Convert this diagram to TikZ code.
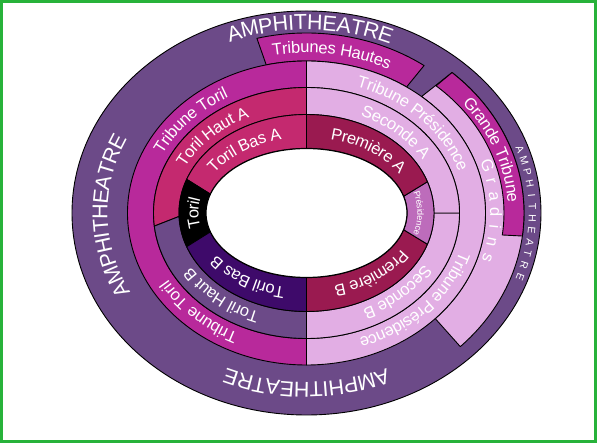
\documentclass[tikz,border=0pt]{standalone}
\usepackage{fontspec}
\setmainfont{Liberation Sans}
\usepackage{tikz}
\usetikzlibrary{decorations.text}

\definecolor{amphi}{HTML}{6C4A88}
\definecolor{tribmag}{HTML}{B8299B}
\definecolor{torilpink}{HTML}{C4296F}
\definecolor{premiere}{HTML}{9A1A50}
\definecolor{presid}{HTML}{BD6CBB}
\definecolor{pale}{HTML}{E2AEE4}
\definecolor{basb}{HTML}{3E0A6A}
\definecolor{framegreen}{HTML}{27B23A}

\newcommand{\lblfont}{\fontsize{16.5pt}{16.5pt}\selectfont}
\newcommand{\bigfont}{\fontsize{21.5pt}{21.5pt}\selectfont}
\newcommand{\minifont}{\fontsize{9pt}{9pt}\selectfont}

\begin{document}
\begin{tikzpicture}[line width=0.9pt,
  band/.style={draw=black, line join=round},
  arclabel/.style={decorate, decoration={text along path, text align=center, text color=white, raise=-5.9pt, text={|\lblfont|#1}}},
  bigarclabel/.style={decorate, decoration={text along path, text align=center, text color=white, raise=-7.7pt, text={|\bigfont|#1}}},
  miniarclabel/.style={decorate, decoration={text along path, text align=center, text color=white, raise=-3.2pt, text={|\minifont|#1}}},
  letter/.style={text=white, inner sep=0pt, anchor=base}]
\useasboundingbox (-306.5pt,-230pt) rectangle (290.5pt,213pt);

%Frame
\draw[line width=3pt, framegreen] (-305pt,-228.5pt) rectangle (289pt,211.5pt);

%Shape: Ellipse (amphitheatre)
\draw[band, fill=amphi] (0,0) ellipse [x radius=234.5pt, y radius=202pt];

%Shape: Arc band (tribunes hautes)
\draw[band, fill=tribmag] (55:205pt and 180pt) arc[start angle=55, end angle=104, x radius=205pt, y radius=180pt] -- (103:179pt and 152pt) arc[start angle=103, end angle=56, x radius=179pt, y radius=152pt] -- cycle;
%Shape: Arc band (gradins)
\draw[band, fill=pale] (50:179pt and 152pt) arc[start angle=50, end angle=-44, x radius=179pt, y radius=152pt] -- (-45:217.5pt and 189pt) arc[start angle=-45, end angle=48, x radius=217.5pt, y radius=189pt] -- cycle;
%Shape: Arc band (grande tribune)
\draw[band, fill=tribmag] (48:217.5pt and 189pt) arc[start angle=48, end angle=-7, x radius=217.5pt, y radius=189pt] -- (-7.5:197.5pt and 168.5pt) arc[start angle=-7.5, end angle=49, x radius=197.5pt, y radius=168.5pt] -- cycle;

%Shape: Arc band (tribune toril)
\draw[band, fill=tribmag] (90:179pt and 152pt) arc[start angle=90, end angle=270, x radius=179pt, y radius=152pt] -- (270:153pt and 125.5pt) arc[start angle=270, end angle=90, x radius=153pt, y radius=125.5pt] -- cycle;
%Shape: Arc band (tribune presidence)
\draw[band, fill=pale] (-90:179pt and 152pt) arc[start angle=-90, end angle=90, x radius=179pt, y radius=152pt] -- (90:153pt and 125.5pt) arc[start angle=90, end angle=-90, x radius=153pt, y radius=125.5pt] -- cycle;

%Shape: Arc band (toril haut a)
\draw[band, fill=torilpink] (90:153pt and 125.5pt) arc[start angle=90, end angle=186, x radius=153pt, y radius=125.5pt] -- (182:127.5pt and 98.5pt) arc[start angle=182, end angle=90, x radius=127.5pt, y radius=98.5pt] -- cycle;
%Shape: Arc band (toril haut b)
\draw[band, fill=amphi] (186:153pt and 125.5pt) arc[start angle=186, end angle=270, x radius=153pt, y radius=125.5pt] -- (270:127.5pt and 98.5pt) arc[start angle=270, end angle=182, x radius=127.5pt, y radius=98.5pt] -- cycle;
%Shape: Arc band (seconde b)
\draw[band, fill=pale] (-90:153pt and 125.5pt) arc[start angle=-90, end angle=0, x radius=153pt, y radius=125.5pt] -- (0:127.5pt and 98.5pt) arc[start angle=0, end angle=-90, x radius=127.5pt, y radius=98.5pt] -- cycle;
%Shape: Arc band (seconde a)
\draw[band, fill=pale] (0:153pt and 125.5pt) arc[start angle=0, end angle=90, x radius=153pt, y radius=125.5pt] -- (90:127.5pt and 98.5pt) arc[start angle=90, end angle=0, x radius=127.5pt, y radius=98.5pt] -- cycle;

%Shape: Arc band (toril bas a)
\draw[band, fill=torilpink] (90:127.5pt and 98.5pt) arc[start angle=90, end angle=160, x radius=127.5pt, y radius=98.5pt] -- (163:100.5pt and 64.5pt) arc[start angle=163, end angle=90, x radius=100.5pt, y radius=64.5pt] -- cycle;
%Shape: Arc band (toril)
\draw[band, fill=black] (160:127.5pt and 98.5pt) arc[start angle=160, end angle=200, x radius=127.5pt, y radius=98.5pt] -- (197:100.5pt and 64.5pt) arc[start angle=197, end angle=163, x radius=100.5pt, y radius=64.5pt] -- cycle;
%Shape: Arc band (toril bas b)
\draw[band, fill=basb] (200:127.5pt and 98.5pt) arc[start angle=200, end angle=270, x radius=127.5pt, y radius=98.5pt] -- (270:100.5pt and 64.5pt) arc[start angle=270, end angle=197, x radius=100.5pt, y radius=64.5pt] -- cycle;
%Shape: Arc band (premiere b)
\draw[band, fill=premiere] (270:127.5pt and 98.5pt) arc[start angle=270, end angle=341.5, x radius=127.5pt, y radius=98.5pt] -- (345:100.5pt and 64.5pt) arc[start angle=345, end angle=270, x radius=100.5pt, y radius=64.5pt] -- cycle;
%Shape: Arc band (presidence)
\draw[band, fill=presid] (-18.5:127.5pt and 98.5pt) arc[start angle=-18.5, end angle=18.5, x radius=127.5pt, y radius=98.5pt] -- (15:100.5pt and 64.5pt) arc[start angle=15, end angle=-15, x radius=100.5pt, y radius=64.5pt] -- cycle;
%Shape: Arc band (premiere a)
\draw[band, fill=premiere] (18.5:127.5pt and 98.5pt) arc[start angle=18.5, end angle=90, x radius=127.5pt, y radius=98.5pt] -- (90:100.5pt and 64.5pt) arc[start angle=90, end angle=15, x radius=100.5pt, y radius=64.5pt] -- cycle;

%Shape: Ellipse (arena)
\draw[fill=white, line width=1.2pt] (0,0) ellipse [x radius=100.5pt, y radius=64.5pt];

% Text along arcs
\path[arclabel={Toril Bas A}] (162:114pt and 81.5pt) arc[start angle=162, end angle=92, x radius=114pt, y radius=81.5pt];
\path[arclabel={Première A}] (88:114pt and 81.5pt) arc[start angle=88, end angle=18, x radius=114pt, y radius=81.5pt];
\path[arclabel={Toril}] (210:114pt and 81.5pt) arc[start angle=210, end angle=150, x radius=114pt, y radius=81.5pt];
\path[miniarclabel={Présidence}] (30:114pt and 81.5pt) arc[start angle=30, end angle=-30, x radius=114pt, y radius=81.5pt];
\path[arclabel={Toril Bas B}] (270:114pt and 81.5pt) arc[start angle=270, end angle=200, x radius=114pt, y radius=81.5pt];
\path[arclabel={Première B}] (344:114pt and 81.5pt) arc[start angle=344, end angle=274, x radius=114pt, y radius=81.5pt];

\path[arclabel={Toril Haut A}] (171:140.25pt and 112pt) arc[start angle=171, end angle=101, x radius=140.25pt, y radius=112pt];
\path[arclabel={Seconde A}] (82:140.25pt and 112pt) arc[start angle=82, end angle=12, x radius=140.25pt, y radius=112pt];
\path[arclabel={Toril Haut B}] (264:140.25pt and 112pt) arc[start angle=264, end angle=194, x radius=140.25pt, y radius=112pt];
\path[arclabel={Seconde B}] (349:140.25pt and 112pt) arc[start angle=349, end angle=279, x radius=140.25pt, y radius=112pt];

\path[arclabel={Tribune Toril}] (178:166pt and 138.75pt) arc[start angle=178, end angle=98, x radius=166pt, y radius=138.75pt];
\path[arclabel={Tribune Toril}] (266:166pt and 138.75pt) arc[start angle=266, end angle=186, x radius=166pt, y radius=138.75pt];
\path[arclabel={Tribune Présidence}] (84:166pt and 138.75pt) arc[start angle=84, end angle=4, x radius=166pt, y radius=138.75pt];
\path[arclabel={Tribune Présidence}] (357:166pt and 138.75pt) arc[start angle=357, end angle=277, x radius=166pt, y radius=138.75pt];

\path[arclabel={Tribunes Hautes}] (112:192pt and 166pt) arc[start angle=112, end angle=52, x radius=192pt, y radius=166pt];
\path[arclabel={Grande Tribune}] (51:207.5pt and 178.75pt) arc[start angle=51, end angle=-9, x radius=207.5pt, y radius=178.75pt];

\path[bigarclabel={AMPHITHEATRE}] (129:219.75pt and 191pt) arc[start angle=129, end angle=49, x radius=219.75pt, y radius=191pt];
\path[bigarclabel={AMPHITHEATRE}] (226:206.75pt and 177pt) arc[start angle=226, end angle=136, x radius=206.75pt, y radius=177pt];
\path[bigarclabel={AMPHITHEATRE}] (315:206.75pt and 177pt) arc[start angle=315, end angle=225, x radius=206.75pt, y radius=177pt];

% Spaced letters
\foreach \ch [count=\i] in {G,r,a,d,i,n,s}{
  \pgfmathsetmacro{\ang}{17-5.5*(\i-1)}
  \node[letter, font=\lblfont, rotate={atan2(-155.75*cos(\ang),183.75*sin(\ang))}] (grad\i) at (\ang:183.75pt and 155.75pt) {\ch};
}
\foreach \ch [count=\i] in {A,M,P,H,I,T,H,E,A,T,R,E}{
  \pgfmathsetmacro{\ang}{19-3.45*(\i-1)}
  \node[letter, font=\fontsize{10.5pt}{10.5pt}\selectfont, rotate={atan2(-191.9*cos(\ang),222.4*sin(\ang))}] (amphr\i) at (\ang:222.4pt and 191.9pt) {\ch};
}

\end{tikzpicture}
\end{document}
